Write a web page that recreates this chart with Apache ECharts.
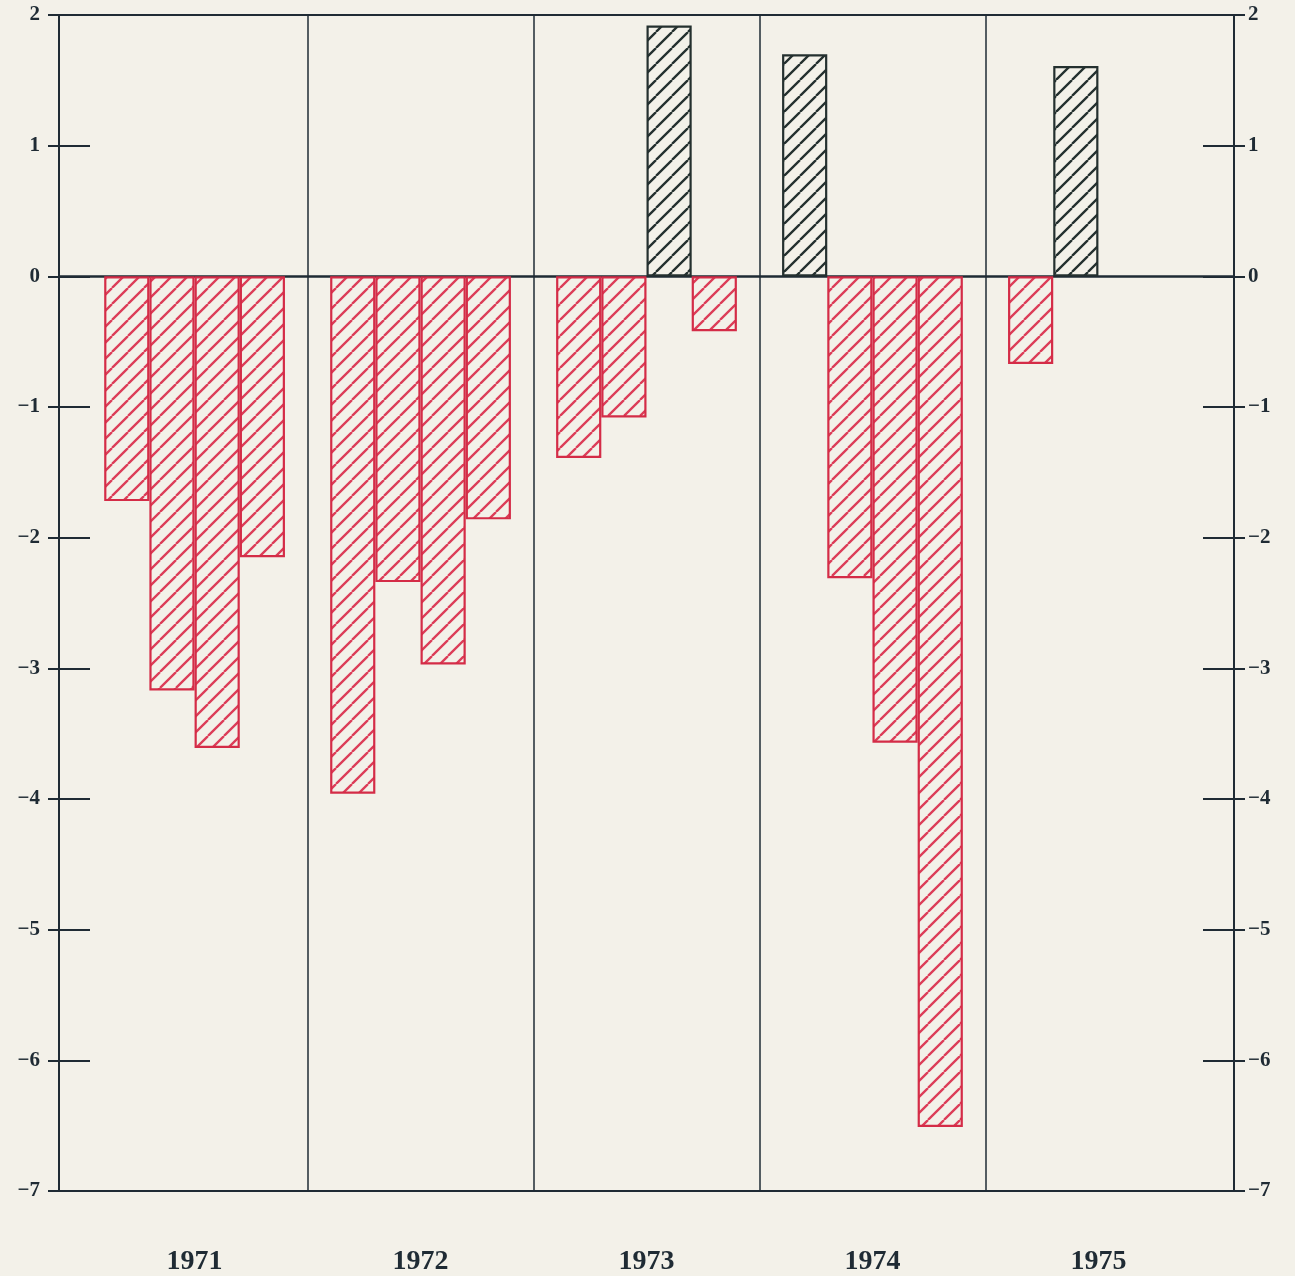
<!DOCTYPE html>
<html>
<head>
<meta charset="utf-8">
<script src="https://cdn.jsdelivr.net/npm/echarts@6/dist/echarts.min.js"></script>
<style>
  html, body { margin: 0; padding: 0; background: #f3f1e9; }
  #chart { width: 1295px; height: 1276px; }
</style>
</head>
<body>
<div id="chart"></div>
<script>
// Quarterly values per year (Q1..Q4); null = no figure for that quarter
const years = ['1971', '1972', '1973', '1974', '1975'];
const q1971 = [-1.72, -3.17, -3.61, -2.15];
const q1972 = [-3.96, -2.34, -2.97, -1.86];
const q1973 = [-1.39, -1.08, 1.92, -0.42];
const q1974 = [1.70, -2.31, -3.57, -6.51];
const q1975 = [-0.67, 1.61, null, null];
const quarters = ['Q1', 'Q2', 'Q3', 'Q4'];
const yMin = -7, yMax = 2, yStep = 1;

const INK = '#1f2b34';
const RED = '#d42c47';
const HATCH_RED = '#dc3d58';
const DARK = '#24302f';
const PAPER = '#f3f1e9';
const FONT = '"Liberation Serif", "DejaVu Serif", serif';

// Diagonal hatch tile used as the bar fill
function hatch(color, size, width) {
  const c = document.createElement('canvas');
  c.width = size; c.height = size;
  const g = c.getContext('2d');
  g.fillStyle = PAPER;
  g.fillRect(0, 0, size, size);
  g.strokeStyle = color;
  g.lineWidth = width;
  g.beginPath();
  for (let k = -1; k <= 1; k++) {
    g.moveTo(k * size, size);
    g.lineTo(k * size + size, 0);
  }
  g.stroke();
  return { image: c, repeat: 'repeat' };
}
const redFill = hatch(HATCH_RED, 16, 2.3);
const darkFill = hatch(DARK, 16, 2.3);

// Slot layout: a blank slot, then each year's four quarters followed by a blank slot
const byYear = [q1971, q1972, q1973, q1974, q1975];
const slots = ['s0'];
const values = [null];
const dividers = [];
byYear.forEach((vals, yi) => {
  vals.forEach((v, qi) => { slots.push(years[yi] + ' ' + quarters[qi]); values.push(v); });
  const gap = 'gap' + years[yi];
  slots.push(gap); values.push(null);
  if (yi < byYear.length - 1) dividers.push(gap);
});

// Year labels sit at the slot boundaries in the middle of each year's four quarters
const yearTicks = [];
for (let i = 0; i <= slots.length; i++) yearTicks.push('');
years.forEach((y, yi) => { yearTicks[3 + yi * 5] = y; });

const barData = values.map(v => v === null ? null : {
  value: v,
  itemStyle: v >= 0
    ? { color: darkFill, borderColor: DARK, borderWidth: 2.2 }
    : { color: redFill, borderColor: RED, borderWidth: 2.2 }
});

const fmt = v => (v < 0 ? '\u2212' + Math.abs(v) : String(v));
const tickLabel = { fontFamily: FONT, fontWeight: 'bold', fontSize: 21, color: INK };

function yAxis(position, inside, withLabels) {
  return {
    type: 'value', position, min: yMin, max: yMax, interval: yStep,
    axisLine: { show: true, lineStyle: { color: INK, width: 2 } },
    axisTick: { show: true, inside, length: inside ? 31 : 11, lineStyle: { color: INK, width: 2 } },
    axisLabel: withLabels
      ? Object.assign({ show: true, margin: position === 'left' ? 19 : 14, formatter: fmt }, tickLabel)
      : { show: false },
    splitLine: { show: false }
  };
}

const chart = echarts.init(document.getElementById('chart'));
chart.setOption({
  backgroundColor: PAPER,
  animation: false,
  grid: { left: 59, right: 61, top: 15, bottom: 83, show: true, borderColor: INK, borderWidth: 2 },
  xAxis: [
    {
      type: 'category', data: slots, boundaryGap: true,
      axisLine: { show: true, onZero: true, lineStyle: { color: INK, width: 2.5 } },
      axisTick: { show: false }, axisLabel: { show: false }, splitLine: { show: false }
    },
    {
      type: 'category', data: yearTicks, boundaryGap: false, position: 'bottom',
      axisLine: { show: false }, axisTick: { show: false }, splitLine: { show: false },
      axisLabel: { show: true, interval: 0, margin: 57, fontFamily: FONT, fontWeight: 'bold', fontSize: 28, color: INK }
    }
  ],
  yAxis: [
    yAxis('left', false, true),
    yAxis('left', true, false),
    yAxis('right', false, true),
    yAxis('right', true, false)
  ],
  series: [{
    type: 'bar',
    xAxisIndex: 0, yAxisIndex: 0,
    data: barData,
    barCategoryGap: '0%',
    markLine: {
      silent: true,
      symbol: ['none', 'none'],
      label: { show: false },
      lineStyle: { color: INK, width: 1.5, type: 'solid' },
      data: dividers.map(d => ({ xAxis: d }))
    }
  }]
});
</script>
</body>
</html>
